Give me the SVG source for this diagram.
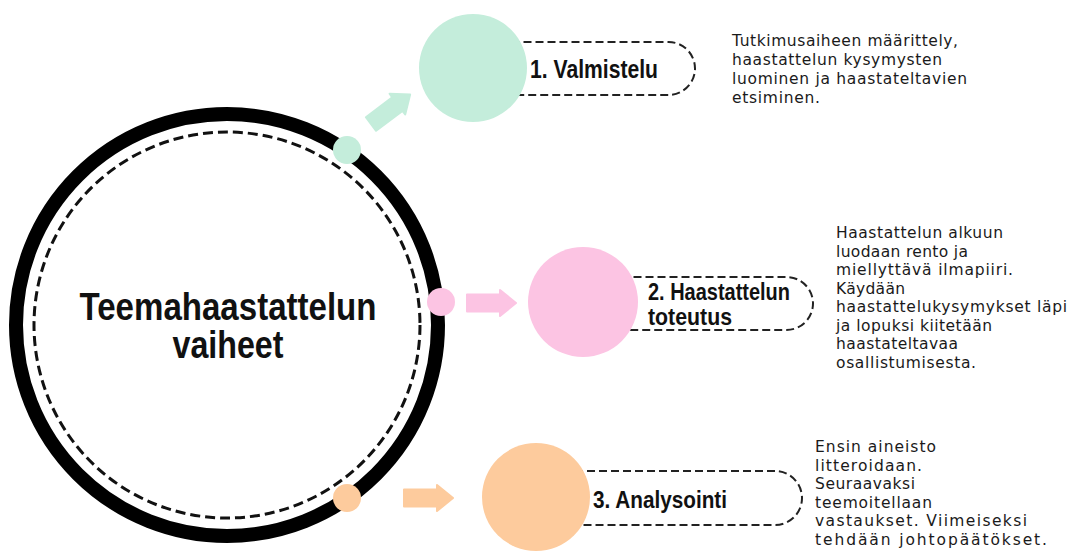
<svg xmlns="http://www.w3.org/2000/svg" width="1067" height="554" viewBox="0 0 1067 554">
<style>
.head{font-family:"Liberation Sans",Arial,sans-serif;font-weight:bold;fill:#111;}
.body{font-family:"DejaVu Sans","Noto Sans",sans-serif;font-size:15.5px;fill:#1a1a1a;}
.box{fill:#fff;stroke:#222;stroke-width:2;stroke-dasharray:8 4;}
.mint{fill:#c4eddb;}
.pink{fill:#fcc4e3;}
.peach{fill:#fdcb9d;}
.arrow{stroke-linejoin:round;stroke-width:2;}
</style>
<defs>
<polygon id="arr" points="0,-8.5 33,-8.5 33,-13 49,0 33,13 33,8.5 0,8.5"/>
</defs>
<rect width="1067" height="554" fill="#fff"/>

<g id="main">
<circle cx="227" cy="325" r="211" fill="#fff" stroke="#000" stroke-width="14"/>
<circle cx="227" cy="325" r="193" fill="none" stroke="#111" stroke-width="3" stroke-dasharray="10 5"/>
<text class="head" x="228" y="320" font-size="38" text-anchor="middle" textLength="297" lengthAdjust="spacingAndGlyphs">Teemahaastattelun</text>
<text class="head" x="228" y="358" font-size="38" text-anchor="middle" textLength="111" lengthAdjust="spacingAndGlyphs">vaiheet</text>
</g>

<g id="connectors">
<circle class="mint" cx="347" cy="150" r="14"/>
<circle class="pink" cx="441" cy="302" r="14"/>
<circle class="peach" cx="347" cy="498" r="14"/>
<use href="#arr" class="mint arrow" stroke="#c4eddb" transform="translate(371,124) rotate(-37)"/>
<use href="#arr" class="pink arrow" stroke="#fcc4e3" transform="translate(467,303)"/>
<use href="#arr" class="peach arrow" stroke="#fdcb9d" transform="translate(404,498)"/>
</g>

<g id="step1">
<rect class="box" x="473" y="42" width="222" height="53" rx="26.5"/>
<circle class="mint" cx="473" cy="68" r="54"/>
<text class="head" x="530" y="78" font-size="26" textLength="128" lengthAdjust="spacingAndGlyphs">1. Valmistelu</text>
</g>

<g id="step2">
<rect class="box" x="583" y="277" width="230" height="53" rx="26.5"/>
<circle class="pink" cx="583" cy="302" r="55"/>
<text class="head" x="648" y="300" font-size="24" textLength="142" lengthAdjust="spacingAndGlyphs">2. Haastattelun</text>
<text class="head" x="648" y="325" font-size="24" textLength="84" lengthAdjust="spacingAndGlyphs">toteutus</text>
</g>

<g id="step3">
<rect class="box" x="536" y="471" width="266" height="54" rx="27"/>
<circle class="peach" cx="536" cy="497" r="54"/>
<text class="head" x="593" y="508" font-size="24" textLength="134" lengthAdjust="spacingAndGlyphs">3. Analysointi</text>
</g>

<g id="desc1" class="body">
<text x="732" y="46" textLength="226">Tutkimusaiheen määrittely,</text>
<text x="732" y="65" textLength="210">haastattelun kysymysten</text>
<text x="732" y="84" textLength="235">luominen ja haastateltavien</text>
<text x="732" y="103" textLength="88">etsiminen.</text>
</g>

<g id="desc2" class="body">
<text x="836" y="238" textLength="167">Haastattelun alkuun</text>
<text x="836" y="256.5" textLength="132">luodaan rento ja</text>
<text x="836" y="275" textLength="177">miellyttävä ilmapiiri.</text>
<text x="836" y="293.5" textLength="69">Käydään</text>
<text x="836" y="312" textLength="231">haastattelukysymykset läpi</text>
<text x="836" y="330.5" textLength="156">ja lopuksi kiitetään</text>
<text x="836" y="349" textLength="122">haastateltavaa</text>
<text x="836" y="367.5" textLength="140">osallistumisesta.</text>
</g>

<g id="desc3" class="body">
<text x="815" y="452" textLength="121">Ensin aineisto</text>
<text x="815" y="470.5" textLength="107">litteroidaan.</text>
<text x="815" y="489" textLength="100">Seuraavaksi</text>
<text x="815" y="507.5" textLength="117">teemoitellaan</text>
<text x="815" y="526" textLength="212">vastaukset. Viimeiseksi</text>
<text x="815" y="544.5" textLength="232">tehdään johtopäätökset.</text>
</g>
</svg>
